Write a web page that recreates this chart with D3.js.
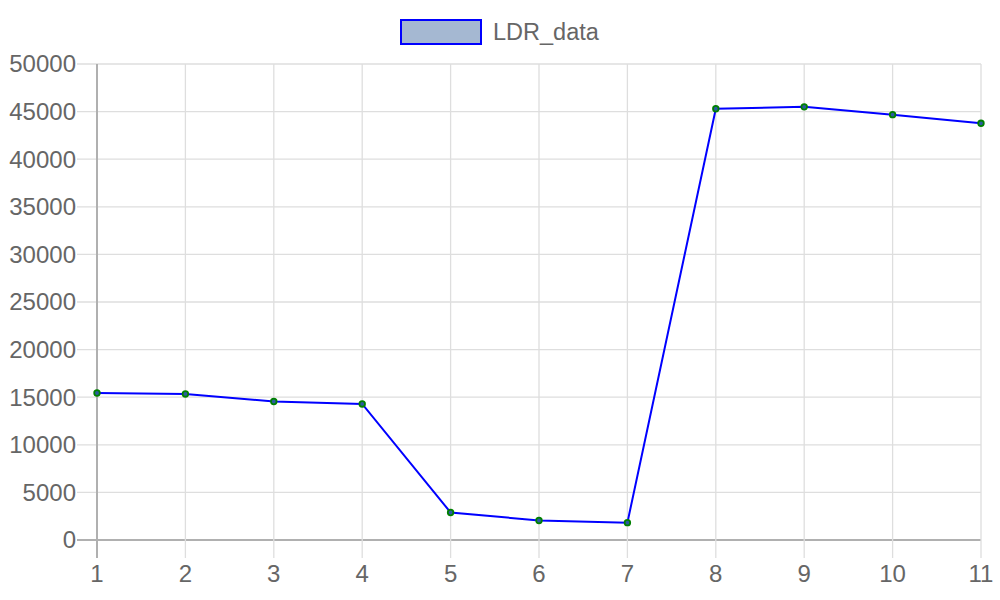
<!DOCTYPE html>
<html><head><meta charset="utf-8">
<script src="https://cdn.jsdelivr.net/npm/d3@7"></script>
<style>body{margin:0;background:#fff}svg{display:block}</style>
</head><body>
<svg id="c" width="1000" height="600"></svg>
<script>
const labels = [1,2,3,4,5,6,7,8,9,10,11];
const ldrData = [15440,15340,14550,14290,2890,2050,1820,45300,45500,44680,43770];
const yTicks = [0,5000,10000,15000,20000,25000,30000,35000,40000,45000,50000];
const seriesName = "LDR_data";

const svg = d3.select("#c");
const font = "'Liberation Sans', Arial, sans-serif";
const x = d3.scaleLinear().domain([1,11]).range([97,981]);
const y = d3.scaleLinear().domain([0,50000]).range([540,64]);

// grid
const g = svg.append("g");
g.selectAll(".hg").data(yTicks).enter().append("line")
  .attr("x1",77).attr("x2",981).attr("y1",d=>y(d)).attr("y2",d=>y(d))
  .attr("stroke",d=>d===0?"#b0b0b0":"#dedede").attr("stroke-width",d=>d===0?2:1.3);
g.selectAll(".vg").data(labels).enter().append("line")
  .attr("x1",d=>x(d)).attr("x2",d=>x(d)).attr("y1",64).attr("y2",558)
  .attr("stroke",(d,i)=>i===0?"#b0b0b0":"#dedede").attr("stroke-width",(d,i)=>i===0?2:1.3);

// axis labels
g.selectAll(".yl").data(yTicks).enter().append("text")
  .attr("x",76).attr("y",d=>y(d)).attr("dy","0.35em").attr("text-anchor","end")
  .attr("font-family",font).attr("font-size",24).attr("fill","#666").text(d=>d);
g.selectAll(".xl").data(labels).enter().append("text")
  .attr("x",d=>x(d)).attr("y",582).attr("text-anchor","middle")
  .attr("font-family",font).attr("font-size",24).attr("fill","#666").text(d=>d);

// line
const line = d3.line().x((d,i)=>x(labels[i])).y(d=>y(d));
svg.append("path").datum(ldrData).attr("d",line).attr("fill","none")
  .attr("stroke","#0000ff").attr("stroke-width",2);
svg.selectAll(".pt").data(ldrData).enter().append("circle")
  .attr("cx",(d,i)=>x(labels[i])).attr("cy",d=>y(d)).attr("r",2.8)
  .attr("fill","#2a5ca0").attr("stroke","#008000").attr("stroke-width",1.8);

// legend
svg.append("rect").attr("x",401).attr("y",20).attr("width",80).attr("height",24)
  .attr("fill","#a5b8d2").attr("stroke","#0000ff").attr("stroke-width",2);
svg.append("text").attr("x",493).attr("y",32).attr("dy","0.35em")
  .attr("font-family",font).attr("font-size",23.5).attr("fill","#666").text(seriesName);
</script>
</body></html>
